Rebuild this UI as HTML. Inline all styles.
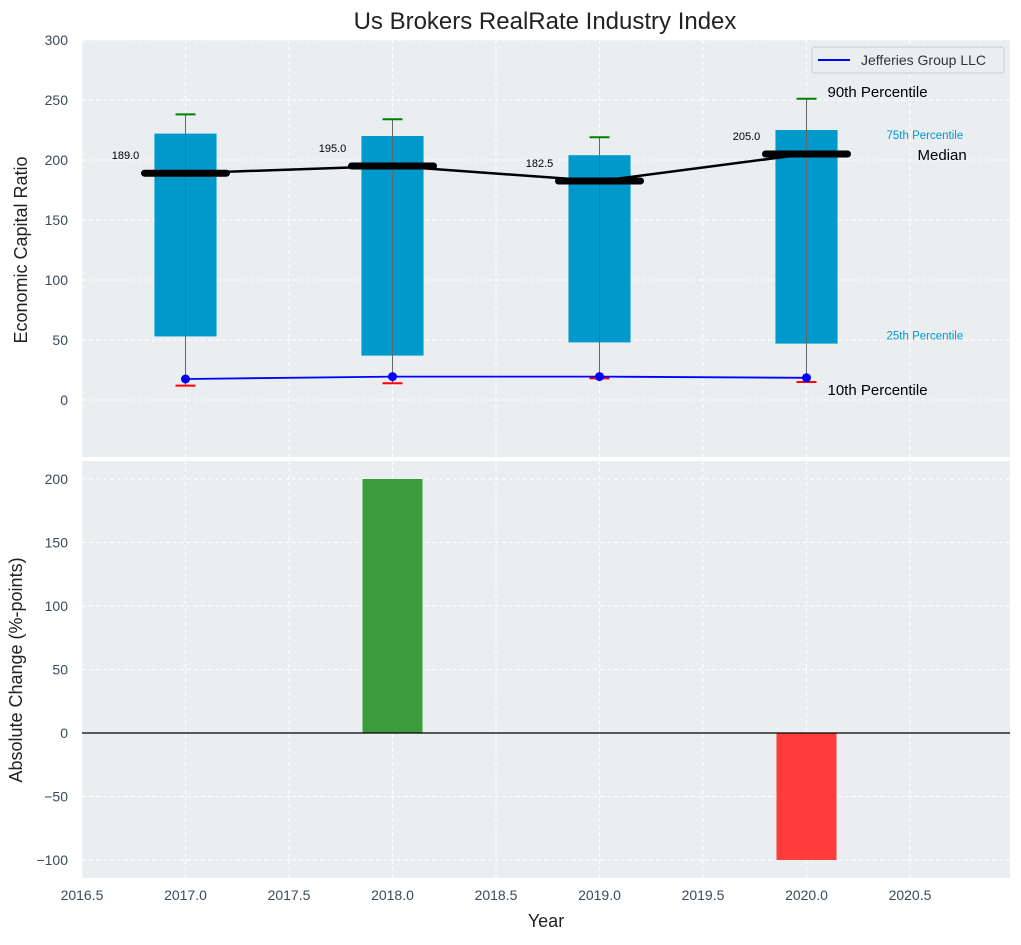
<!DOCTYPE html>
<html><head><meta charset="utf-8"><style>
body{margin:0;background:#fff;}
svg{font-family:"Liberation Sans","DejaVu Sans",sans-serif;}
</style></head><body>
<svg id="chart" width="1021" height="940" xmlns="http://www.w3.org/2000/svg">
<text x="545" y="29" font-size="24" text-anchor="middle" fill="#222">Us Brokers RealRate Industry Index</text>
<rect x="82" y="40" width="928" height="417" fill="#eaeef0"/>
<rect x="82" y="461" width="928" height="417" fill="#eaeef0"/>
<g id="topg"></g><g id="botg"></g>
<text x="27" y="250" font-size="18" fill="#222" text-anchor="middle" transform="rotate(-90 27 250)">Economic Capital Ratio</text>
<text x="22" y="670" font-size="18" fill="#222" text-anchor="middle" transform="rotate(-90 22 670)">Absolute Change (%-points)</text>
<text x="546" y="927" font-size="18" fill="#222" text-anchor="middle">Year</text>
<g id="legend">
<rect x="812" y="47" width="192" height="26" rx="3" fill="#eaeef0" stroke="#ccc"/>
<line x1="818" y1="60" x2="850" y2="60" stroke="#0000ff" stroke-width="2"/>
<text x="861" y="65" font-size="14" fill="#333">Jefferies Group LLC</text>
</g>
</svg>
<script>
const years=[2017,2018,2019,2020];
const p25=[53,37,48,47];
const p75=[222,220,204,225];
const p90=[238,234,219,251];
const p10=[12,14,18,15];
const median=[189,195,182.5,205];
const company=[17.5,19.5,19.5,18.5];
const changes=[0,200,0,-100];
const xTicks=[2016.5,2017,2017.5,2018,2018.5,2019,2019.5,2020,2020.5];
const topTicks=[0,50,100,150,200,250,300];
const botTicks=[-100,-50,0,50,100,150,200];

const NS="http://www.w3.org/2000/svg";
const TC='#3b4a5c';
const X=v=>82+(v-2016.5)*207;
const YT=v=>400-v*1.2;
const YB=v=>733-v*1.27;
function mk(parent,tag,attrs){const e=document.createElementNS(NS,tag);for(const k in attrs)e.setAttribute(k,attrs[k]);parent.appendChild(e);return e;}
const svgEl=document.getElementById('chart');
const gTop=document.getElementById('topg'),gBot=document.getElementById('botg');

xTicks.forEach(t=>{
  [[gTop,40,457],[gBot,461,878]].forEach(([g,a,b])=>{
    const l=mk(g,'line',{x1:X(t),x2:X(t),y1:a,y2:b,stroke:'#fff','stroke-dasharray':'4,3'});
    
    
  });
  const tx=mk(svgEl,'text',{x:X(t),y:900,'font-size':14,fill:TC,'text-anchor':'middle'});
  tx.textContent=t.toFixed(1);
  
  
});
topTicks.forEach(t=>{
  const l=mk(gTop,'line',{x1:82,x2:1010,y1:YT(t),y2:YT(t),stroke:'#fff','stroke-dasharray':'4,3'});
  
  
  const tx=mk(svgEl,'text',{x:68,y:YT(t)+5,'font-size':14,fill:TC,'text-anchor':'end'});
  tx.textContent=t;
  
  
});
botTicks.forEach(t=>{
  const l=mk(gBot,'line',{x1:82,x2:1010,y1:YB(t),y2:YB(t),stroke:'#fff','stroke-dasharray':'4,3'});
  
  
  const tx=mk(svgEl,'text',{x:68,y:YB(t)+5,'font-size':14,fill:TC,'text-anchor':'end'});
  tx.textContent=(t<0?'\u2212'+(-t):t);
  
  
});

years.forEach((y,i)=>{
  const cx=X(y),w=0.3*207;
  const r=mk(gTop,'rect',{x:cx-w/2,y:YT(p75[i]),width:w,height:YT(p25[i])-YT(p75[i]),fill:'#0099cc'});
  
  
  const wl=mk(gTop,'line',{x1:cx,x2:cx,y1:YT(p90[i]),y2:YT(p10[i]),stroke:'#666','stroke-width':1});
  
  
  const c90=mk(gTop,'line',{x1:cx-10,x2:cx+10,y1:YT(p90[i]),y2:YT(p90[i]),stroke:'green','stroke-width':2});
  
  
  const c10=mk(gTop,'line',{x1:cx-10,x2:cx+10,y1:YT(p10[i]),y2:YT(p10[i]),stroke:'red','stroke-width':2});
  
  
  const mm=mk(gTop,'line',{x1:cx-41,x2:cx+41,y1:YT(median[i]),y2:YT(median[i]),stroke:'#000','stroke-width':7,'stroke-linecap':'round'});
  
  
  const lb=mk(gTop,'text',{x:cx-60,y:YT(median[i])-14,'font-size':11,fill:'#000','text-anchor':'middle'});
  lb.textContent=median[i].toFixed(1);
  
  
  if(changes[i]!==0){
    const v=changes[i];
    const b=mk(gBot,'rect',{x:cx-30,y:Math.min(YB(v),YB(0)),width:60,height:Math.abs(YB(v)-YB(0)),fill:v>0?'#3a9c3d':'#ff3c3c'});
    
    
  }
});
const mline=mk(gTop,'polyline',{points:years.map((y,i)=>X(y)+','+YT(median[i])).join(' '),fill:'none',stroke:'#000','stroke-width':2.5});


const cl=mk(gTop,'polyline',{points:years.map((y,i)=>X(y)+','+YT(company[i])).join(' '),fill:'none',stroke:'#0000ff','stroke-width':1.8});


years.forEach((y,i)=>{
  const d=mk(gTop,'circle',{cx:X(y),cy:YT(company[i]),r:4.5,fill:'#0000ff'});
  
  
});
const zl=mk(gBot,'line',{x1:82,x2:1010,y1:YB(0),y2:YB(0),stroke:'#000','stroke-width':1.2});


const L=years.length-1,lx=X(years[L]);
[['90th Percentile',lx+21,YT(p90[L])-2,15,'#000','p90-annotation'],
 ['75th Percentile',lx+80,YT(p75[L])+9,11.5,'#0099cc','p75-annotation'],
 ['Median',lx+111,YT(median[L])+6,15,'#000','median-annotation'],
 ['25th Percentile',lx+80,YT(p25[L])-4,11.5,'#0099cc','p25-annotation'],
 ['10th Percentile',lx+21,YT(p10[L])+13,15,'#000','p10-annotation']].forEach(a=>{
  const t=mk(gTop,'text',{x:a[1],y:a[2],'font-size':a[3],fill:a[4]});
  t.textContent=a[0];
  
  
});
const lg=document.getElementById('legend');
svgEl.appendChild(lg);
</script>
</body></html>
